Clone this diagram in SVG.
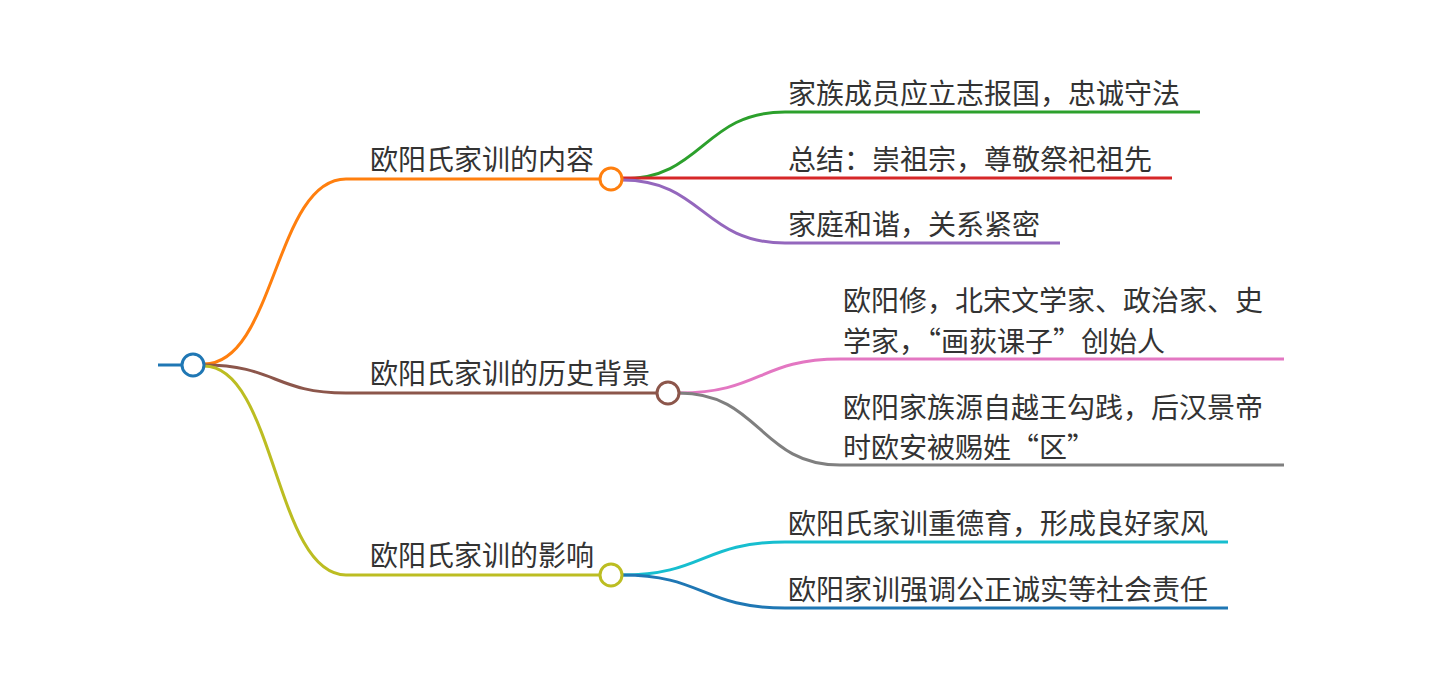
<svg xmlns="http://www.w3.org/2000/svg" width="1440" height="682" viewBox="0 0 1440 682">
<style>
text{font-family:"Noto Sans CJK SC","Noto Sans",sans-serif;font-size:28px;fill:#333}
.l{fill:none;stroke-width:3}
.c{fill:#fff;stroke-width:3}
</style>
<rect width="1440" height="682" fill="#fff"/>
<g id="connectors">
<path class="l" stroke="#1f77b4" d="M158 365 L182 365"/>
<path class="l" stroke="#ff7f0e" d="M204 364 C275 364 275 179 346 179 L600 179"/>
<path class="l" stroke="#8c564b" d="M204 365 C275 365 275 393 346 393 L657 393"/>
<path class="l" stroke="#bcbd22" d="M204 366 C275 366 275 575 346 575 L600 575"/>
<path class="l" stroke="#2ca02c" d="M622 179 C703 179 703 112 785 112 L1200 112"/>
<path class="l" stroke="#d62728" d="M622 178 L1172 178"/>
<path class="l" stroke="#9467bd" d="M622 180 C703 180 703 243 785 243 L1060 243"/>
<path class="l" stroke="#e377c2" d="M679 393 C760 393 760 359 840 359 L1284 359"/>
<path class="l" stroke="#7f7f7f" d="M679 393 C760 393 760 465 840 465 L1284 465"/>
<path class="l" stroke="#17becf" d="M622 575 C703 575 703 542 785 542 L1228 542"/>
<path class="l" stroke="#1f77b4" d="M622 575 C703 575 703 608 785 608 L1228 608"/>
</g>
<g id="root"><circle class="c" stroke="#1f77b4" cx="193" cy="365" r="11"/></g>
<g id="b1"><text x="370" y="170">欧阳氏家训的内容</text><circle class="c" stroke="#ff7f0e" cx="611" cy="179" r="11"/></g>
<g id="b2"><text x="370" y="384">欧阳氏家训的历史背景</text><circle class="c" stroke="#8c564b" cx="668" cy="393" r="11"/></g>
<g id="b3"><text x="370" y="566">欧阳氏家训的影响</text><circle class="c" stroke="#bcbd22" cx="611" cy="575" r="11"/></g>
<g id="c11"><text x="788" y="104">家族成员应立志报国，忠诚守法</text></g>
<g id="c12"><text x="788" y="170">总结：崇祖宗，尊敬祭祀祖先</text></g>
<g id="c13"><text x="788" y="235">家庭和谐，关系紧密</text></g>
<g id="c21"><text x="843" y="311">欧阳修，北宋文学家、政治家、史</text><text x="843" y="352">学家，“画荻课子”创始人</text></g>
<g id="c22"><text x="843" y="418">欧阳家族源自越王勾践，后汉景帝</text><text x="843" y="458">时欧安被赐姓“区”</text></g>
<g id="c31"><text x="788" y="534">欧阳氏家训重德育，形成良好家风</text></g>
<g id="c32"><text x="788" y="600">欧阳家训强调公正诚实等社会责任</text></g>
</svg>
